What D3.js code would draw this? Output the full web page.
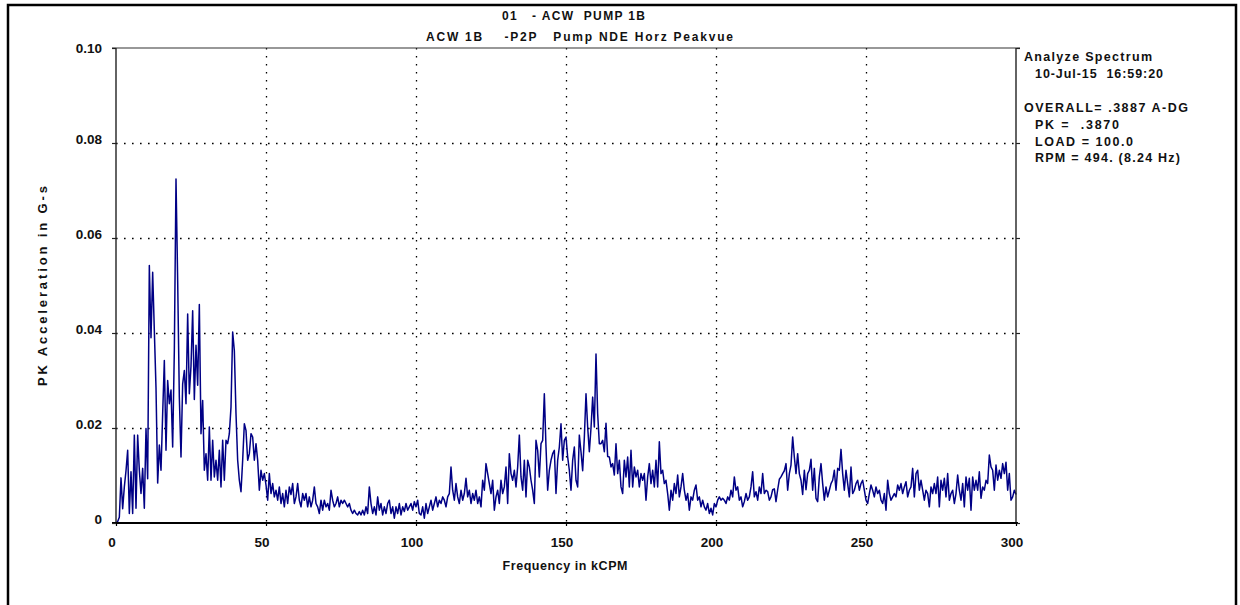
<!DOCTYPE html>
<html>
<head>
<meta charset="utf-8">
<script src="https://cdn.jsdelivr.net/npm/d3@7"></script>
<style>
  html, body { margin: 0; padding: 0; background: #fff; }
  svg { display: block; font-family: "Liberation Sans", Arial, Helvetica, sans-serif; font-weight: bold; }
  text { white-space: pre; }
</style>
</head>
<body>
<svg id="chart" width="1240" height="605"></svg>
<script>
// Peakvue spectrum amplitudes (G-s), one array per 50 kCPM band, 90 lines per band
const band000_050 = [
  0.0000,0.0003,0.0012,0.0095,0.0030,0.0076,0.0110,0.0153,0.0020,0.0108,
  0.0020,0.0185,0.0031,0.0185,0.0111,0.0062,0.0115,0.0031,0.0199,0.0093,
  0.0542,0.0390,0.0528,0.0405,0.0285,0.0084,0.0164,0.0111,0.0230,0.0342,
  0.0153,0.0300,0.0251,0.0280,0.0160,0.0363,0.0724,0.0511,0.0265,0.0139,
  0.0293,0.0321,0.0251,0.0440,0.0272,0.0330,0.0447,0.0260,0.0374,0.0290,
  0.0460,0.0188,0.0258,0.0111,0.0146,0.0090,0.0202,0.0090,0.0174,0.0097,
  0.0132,0.0090,0.0153,0.0076,0.0174,0.0090,0.0174,0.0167,0.0188,0.0244,
  0.0402,0.0363,0.0230,0.0132,0.0090,0.0066,0.0132,0.0209,0.0195,0.0132,
  0.0146,0.0188,0.0181,0.0132,0.0167,0.0132,0.0069,0.0111,0.0090,0.0104
];
const band050_100 = [
  0.0080,0.0048,0.0104,0.0062,0.0083,0.0055,0.0069,0.0048,0.0076,0.0041,
  0.0062,0.0034,0.0069,0.0041,0.0076,0.0060,0.0083,0.0041,0.0055,0.0083,
  0.0048,0.0034,0.0062,0.0048,0.0062,0.0034,0.0055,0.0034,0.0048,0.0076,
  0.0041,0.0034,0.0020,0.0048,0.0027,0.0048,0.0034,0.0041,0.0027,0.0069,
  0.0048,0.0034,0.0041,0.0055,0.0034,0.0048,0.0041,0.0048,0.0041,0.0034,
  0.0041,0.0027,0.0020,0.0027,0.0020,0.0017,0.0024,0.0017,0.0027,0.0017,
  0.0034,0.0020,0.0076,0.0041,0.0020,0.0034,0.0017,0.0055,0.0027,0.0041,
  0.0017,0.0034,0.0020,0.0041,0.0048,0.0020,0.0034,0.0010,0.0034,0.0020,
  0.0041,0.0017,0.0034,0.0024,0.0041,0.0027,0.0034,0.0041,0.0027,0.0045
];
const band100_150 = [
  0.0034,0.0048,0.0020,0.0017,0.0034,0.0010,0.0041,0.0020,0.0034,0.0048,
  0.0027,0.0041,0.0055,0.0034,0.0048,0.0041,0.0055,0.0048,0.0034,0.0055,
  0.0062,0.0118,0.0069,0.0048,0.0083,0.0055,0.0041,0.0069,0.0048,0.0062,
  0.0094,0.0055,0.0069,0.0041,0.0062,0.0048,0.0069,0.0041,0.0055,0.0034,
  0.0090,0.0069,0.0125,0.0104,0.0083,0.0062,0.0090,0.0027,0.0055,0.0069,
  0.0041,0.0090,0.0062,0.0076,0.0118,0.0041,0.0146,0.0104,0.0090,0.0111,
  0.0076,0.0118,0.0185,0.0097,0.0069,0.0132,0.0055,0.0132,0.0118,0.0090,
  0.0069,0.0041,0.0174,0.0153,0.0097,0.0167,0.0174,0.0272,0.0160,0.0069,
  0.0111,0.0132,0.0146,0.0153,0.0062,0.0132,0.0160,0.0209,0.0132,0.0174
];
const band150_200 = [
  0.0181,0.0139,0.0111,0.0069,0.0132,0.0160,0.0090,0.0076,0.0185,0.0150,
  0.0110,0.0180,0.0272,0.0202,0.0150,0.0200,0.0265,0.0202,0.0356,0.0230,
  0.0167,0.0167,0.0174,0.0150,0.0210,0.0140,0.0139,0.0118,0.0125,0.0101,
  0.0167,0.0104,0.0132,0.0076,0.0062,0.0132,0.0097,0.0139,0.0076,0.0153,
  0.0076,0.0118,0.0097,0.0111,0.0076,0.0104,0.0090,0.0104,0.0048,0.0097,
  0.0125,0.0083,0.0111,0.0076,0.0132,0.0076,0.0171,0.0104,0.0111,0.0083,
  0.0090,0.0062,0.0027,0.0069,0.0048,0.0083,0.0062,0.0101,0.0055,0.0076,
  0.0104,0.0069,0.0048,0.0062,0.0027,0.0055,0.0048,0.0069,0.0080,0.0048,
  0.0055,0.0034,0.0048,0.0034,0.0027,0.0041,0.0020,0.0031,0.0017,0.0041
];
const band200_250 = [
  0.0034,0.0048,0.0055,0.0048,0.0052,0.0048,0.0041,0.0055,0.0048,0.0069,
  0.0055,0.0097,0.0069,0.0076,0.0048,0.0055,0.0034,0.0045,0.0062,0.0048,
  0.0055,0.0076,0.0108,0.0055,0.0066,0.0048,0.0076,0.0062,0.0104,0.0062,
  0.0069,0.0066,0.0048,0.0055,0.0070,0.0072,0.0045,0.0070,0.0092,0.0097,
  0.0104,0.0110,0.0125,0.0069,0.0104,0.0122,0.0181,0.0139,0.0104,0.0146,
  0.0104,0.0090,0.0060,0.0111,0.0070,0.0104,0.0111,0.0134,0.0069,0.0115,
  0.0052,0.0045,0.0097,0.0125,0.0083,0.0048,0.0076,0.0055,0.0069,0.0083,
  0.0090,0.0111,0.0069,0.0115,0.0111,0.0155,0.0104,0.0069,0.0111,0.0083,
  0.0055,0.0118,0.0062,0.0069,0.0083,0.0090,0.0069,0.0083,0.0090,0.0069
];
const band250_300 = [
  0.0048,0.0041,0.0062,0.0080,0.0069,0.0055,0.0076,0.0062,0.0069,0.0048,
  0.0041,0.0062,0.0027,0.0090,0.0062,0.0048,0.0055,0.0062,0.0055,0.0080,
  0.0069,0.0083,0.0062,0.0076,0.0087,0.0055,0.0069,0.0076,0.0115,0.0055,
  0.0104,0.0111,0.0069,0.0090,0.0069,0.0048,0.0069,0.0062,0.0034,0.0076,
  0.0062,0.0083,0.0062,0.0097,0.0034,0.0090,0.0069,0.0094,0.0055,0.0104,
  0.0048,0.0062,0.0069,0.0041,0.0062,0.0101,0.0069,0.0048,0.0083,0.0034,
  0.0097,0.0069,0.0094,0.0027,0.0097,0.0069,0.0090,0.0069,0.0108,0.0052,
  0.0076,0.0069,0.0090,0.0083,0.0143,0.0118,0.0111,0.0069,0.0122,0.0090,
  0.0111,0.0094,0.0125,0.0104,0.0128,0.0069,0.0104,0.0048,0.0055,0.0069
];
const endLine = [0.0060];               // amplitude at 300 kCPM

const fMax = 300;                        // kCPM
const linesPerBand = 90;
const bandSpan = 50;                     // kCPM

const xTicks = [0, 50, 100, 150, 200, 250, 300];
const yTicks = [0, 0.02, 0.04, 0.06, 0.08, 0.10];
const yTickLabels = ["0", "0.02", "0.04", "0.06", "0.08", "0.10"];

const titleLines = ["01   - ACW  PUMP 1B", "ACW 1B    -P2P   Pump NDE Horz Peakvue"];
const infoLines = ["Analyze Spectrum", "  10-Jul-15  16:59:20", "",
                   "OVERALL= .3887 A-DG", "  PK =  .3870", "  LOAD = 100.0", "  RPM = 494. (8.24 Hz)"];
const xTitle = "Frequency in kCPM";
const yTitle = "PK Acceleration in G-s";

// ---- assemble the spectrum ----
const amplitudes = [].concat(band000_050, band050_100, band100_150,
                             band150_200, band200_250, band250_300, endLine);
const df = bandSpan / linesPerBand;
const spectrum = amplitudes.map((a, i) => ({ f: i * df, a }));

// ---- layout ----
const plot = { left: 116, right: 1016, top: 48, bottom: 523 };
const svg = d3.select("#chart");

const x = d3.scaleLinear().domain([0, fMax]).range([plot.left, plot.right]);
const y = d3.scaleLinear().domain([0, 0.1]).range([plot.bottom, plot.top]);

// outer frame
svg.append("rect")
  .attr("x", 8).attr("y", 5).attr("width", 1228).attr("height", 700)
  .attr("fill", "none").attr("stroke", "#000").attr("stroke-width", 2.5);

// dotted grid
const grid = svg.append("g").attr("stroke", "#000").attr("stroke-width", 1.3)
  .attr("stroke-dasharray", "1.6,6.4");
grid.selectAll("line.v").data(xTicks.filter(t => t > 0 && t < fMax)).join("line")
  .attr("class", "v")
  .attr("x1", d => Math.round(x(d)) + 0.5).attr("x2", d => Math.round(x(d)) + 0.5)
  .attr("y1", plot.top).attr("y2", plot.bottom);
grid.selectAll("line.h").data(yTicks.filter(t => t > 0 && t < 0.1)).join("line")
  .attr("class", "h")
  .attr("x1", plot.left).attr("x2", plot.right)
  .attr("y1", d => Math.round(y(d)) + 0.5).attr("y2", d => Math.round(y(d)) + 0.5);

// spectrum trace
const line = d3.line().x(d => x(d.f)).y(d => y(d.a));
svg.append("path")
  .datum(spectrum)
  .attr("d", line)
  .attr("fill", "none")
  .attr("stroke", "#000085")
  .attr("stroke-width", 1.5)
  .attr("stroke-linejoin", "round");

// plot frame
svg.append("line").attr("x1", plot.left - 4).attr("x2", plot.right + 4)
  .attr("y1", plot.top).attr("y2", plot.top).attr("stroke", "#333").attr("stroke-width", 1.2);
svg.append("line").attr("x1", plot.left).attr("x2", plot.left)
  .attr("y1", plot.top).attr("y2", plot.bottom).attr("stroke", "#222").attr("stroke-width", 1.4);
svg.append("line").attr("x1", plot.right).attr("x2", plot.right)
  .attr("y1", plot.top).attr("y2", plot.bottom).attr("stroke", "#222").attr("stroke-width", 1.4);
svg.append("line").attr("x1", plot.left - 4).attr("x2", plot.right + 2)
  .attr("y1", plot.bottom).attr("y2", plot.bottom).attr("stroke", "#000").attr("stroke-width", 2);

// y ticks on both sides
const yAxisL = d3.axisLeft(y).tickValues(yTicks).tickSize(4).tickFormat((d, i) => yTickLabels[i]);
const gL = svg.append("g").attr("transform", `translate(${plot.left},0)`).call(yAxisL);
gL.select(".domain").remove();
gL.selectAll("line").attr("stroke", "#222").attr("stroke-width", 1.2);
gL.selectAll("text")
  .attr("x", -14)
  .attr("dy", d => d === 0.1 ? "0.35em" : "0.05em")
  .attr("fill", "#111")
  .style("font-size", "13.5px")
  .style("font-family", "'Liberation Sans', Arial, sans-serif")
  .style("font-weight", "bold");

const yAxisR = d3.axisRight(y).tickValues(yTicks).tickSize(4).tickFormat("");
const gR = svg.append("g").attr("transform", `translate(${plot.right},0)`).call(yAxisR);
gR.select(".domain").remove();
gR.selectAll("line").attr("stroke", "#222").attr("stroke-width", 1.2);

// x ticks
const xAxis = d3.axisBottom(x).tickValues(xTicks).tickSize(3).tickFormat(d3.format("d"));
const gX = svg.append("g").attr("transform", `translate(0,${plot.bottom})`).call(xAxis);
gX.select(".domain").remove();
gX.selectAll("line").attr("stroke", "#000").attr("stroke-width", 1.2);
gX.selectAll("text")
  .attr("x", -4.5)
  .attr("y", 24)
  .attr("dy", 0)
  .attr("fill", "#111")
  .style("font-size", "13.5px")
  .style("font-family", "'Liberation Sans', Arial, sans-serif")
  .style("font-weight", "bold");

// axis titles
svg.append("text")
  .attr("x", 565).attr("y", 570)
  .attr("text-anchor", "middle")
  .attr("textLength", 125).attr("lengthAdjust", "spacing")
  .attr("fill", "#111").style("font-size", "12.5px")
  .text(xTitle);
svg.append("text")
  .attr("transform", "translate(47,286) rotate(-90)")
  .attr("text-anchor", "middle")
  .attr("textLength", 200).attr("lengthAdjust", "spacing")
  .attr("fill", "#111").style("font-size", "13px")
  .text(yTitle);

// title block
const titleLayout = [{ x: 502, y: 20, w: 143 }, { x: 426, y: 41, w: 307 }];
svg.selectAll("text.title").data(titleLines).join("text")
  .attr("class", "title")
  .attr("x", (d, i) => titleLayout[i].x)
  .attr("y", (d, i) => titleLayout[i].y)
  .attr("textLength", (d, i) => titleLayout[i].w)
  .attr("lengthAdjust", "spacing")
  .attr("fill", "#111").style("font-size", "12px")
  .text(d => d);

// measurement info to the right of the plot
const infoWidths = [128, 128, 0, 164, 84, 98, 145];
const info = svg.append("g");
infoLines.forEach((s, i) => {
  if (!s) return;
  const indented = s.startsWith("  ");
  info.append("text")
    .attr("x", indented ? 1035 : 1024)
    .attr("y", 61 + i * 16.9)
    .attr("textLength", infoWidths[i]).attr("lengthAdjust", "spacing")
    .attr("fill", "#111").style("font-size", "12.5px")
    .text(s.trim());
});
</script>
</body>
</html>
